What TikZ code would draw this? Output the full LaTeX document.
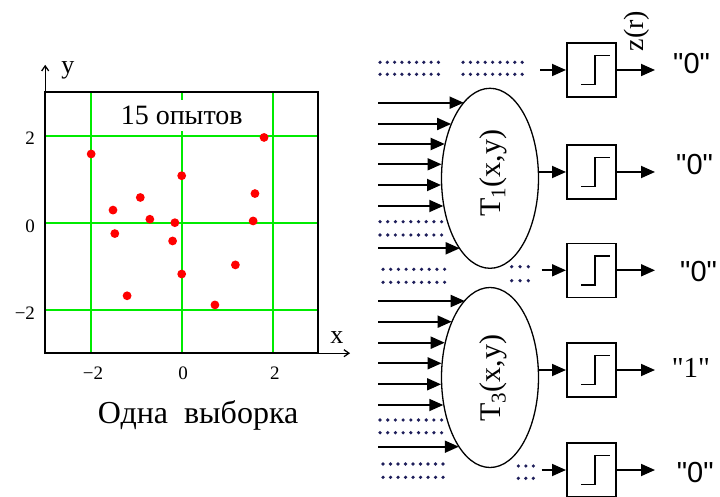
\documentclass[tikz,border=0pt]{standalone}
\usepackage{fontspec}
\setmainfont{Liberation Serif}
\newfontfamily\qsans[Ligatures=TeXOff]{Liberation Sans}
\newfontfamily\qserif[Ligatures=TeXOff]{Liberation Serif}
\usetikzlibrary{arrows.meta,shapes.geometric}
\definecolor{gridgreen}{RGB}{0,235,0}
\definecolor{dotcol}{RGB}{30,30,90}
\definecolor{ptred}{RGB}{255,0,0}
\newcommand\dotrow[4]{\foreach \i in {0,...,#4}{\fill[dotcol] ({#1+\i*#3},#2) circle[radius=1.8pt];}}
\begin{document}
\begin{tikzpicture}[x=1pt,y=-1pt,
 inarr/.style={line width=1.8pt,-{Triangle[length=14pt,width=12pt]}},
 sbox/.style={draw,line width=1.6pt,minimum width=49pt,minimum height=54pt,inner sep=0pt},
 ell/.style={draw,ellipse,line width=1.3pt,minimum width=97pt,minimum height=180pt,inner sep=0pt,fill=white},
 gridl/.style={gridgreen,line width=2pt},
 axarr/.style={line width=1.3pt,-{Straight Barb[length=5pt,width=7pt]}},
 tick/.style={font=\fontsize{19}{21}\selectfont,inner sep=0pt},
 pt/.style={fill=ptred},
 qlab/.style={anchor=west,inner sep=0pt,font=\fontsize{29}{31}\selectfont\qsans},
 steppath/.style={line width=1.6pt},
]
\useasboundingbox (0,0) rectangle (720,497);
% ---------------- plot ----------------
\begin{scope}[shift={(181.7,222.7)},x=45.5pt,y=43.5pt]
 \foreach \v in {-2,0,2}{
  \draw[gridl] (\v,-3) -- (\v,3);
  \draw[gridl] (-3,\v) -- (3,\v);
 }
 \node[fill=white,inner xsep=3pt,inner ysep=6pt,font=\fontsize{28}{30}\selectfont] (title) at (0,2.47) {15 опытов};
 \draw[line width=1.6pt] (-3,-3) rectangle (3,3);
 \coordinate (org) at (-3,-3);
 \coordinate (ytip) at (-3,3.63);
 \coordinate (xtip) at (3.7,-3);
 \draw[axarr] (org) -- (ytip);
 \draw[axarr] (org) -- (xtip);
 \node[font=\fontsize{26}{28}\selectfont] (ylab) at (-2.5,3.51) {y};
 \node[font=\fontsize{26}{28}\selectfont] (xlab) at (3.41,-2.63) {x};
 \node[tick,anchor=east] (ly2) at (-3.22,1.95) {2};
 \node[tick,anchor=east] (ly0) at (-3.22,-0.08) {0};
 \node[tick,anchor=east] (lym) at (-3.22,-2.07) {−2};
 \node[tick] (lxm) at (-1.95,-3.46) {−2};
 \node[tick] (lx0) at (0.03,-3.46) {0};
 \node[tick] (lx2) at (2.05,-3.46) {2};
 \node[font=\fontsize{32}{34}\selectfont] (cap) at (0.36,-4.42) {Одна\ \ выборка};
 \foreach \px/\py in {-1.99/1.58,1.81/1.96,0/1.08,-0.91/0.58,-1.51/0.29,1.61/0.67,-0.70/0.08,-0.15/0,1.57/0.04,-1.47/-0.25,-0.20/-0.42,1.18/-0.97,0/-1.18,-1.20/-1.68,0.73/-1.89}
  \fill[pt] (\px,\py) circle[radius=4.4pt];
\end{scope}
% ---------------- network ----------------
\node[ell] (e1) at (490,178.3) {};
\node[ell] (e2) at (490,377.5) {};
\node[rotate=90,font=\fontsize{30}{32}\selectfont] (l1) at (493,173) {T\textsubscript{1}(x,y)};
\node[rotate=90,font=\fontsize{30}{32}\selectfont] (l2) at (493,378) {T\textsubscript{3}(x,y)};
\node[sbox] (b1) at (591.3,70) {};
\node[sbox] (b2) at (591.3,172) {};
\node[sbox] (b3) at (591.3,270.3) {};
\node[sbox] (b4) at (591.3,370) {};
\node[sbox] (b5) at (591.3,470) {};
\foreach \b in {b1,b2,b3,b4,b5}
 \draw[steppath] (\b.center) ++(-10,14.5) -- ++(13.5,0) -- ++(0,-29) -- ++(15,0);
\node[rotate=90,font=\fontsize{28}{30}\selectfont] (zr) at (637,31) {z(r)};
% inputs to ellipse 1
\foreach \yy [count=\k] in {102.7,124,144,164.3,185,206,248.3}{
 \coordinate (ia\k) at (378,\yy);
 \pgfmathsetmacro\ang{atan2(178.3-\yy,-48.5*sqrt(1-((\yy-178.3)/90.5)^2))}
 \draw[inarr] (ia\k) -- (ia\k -| e1.\ang);
}
% inputs to ellipse 2
\foreach \yy [count=\k] in {301,321.7,342.7,363.3,384.3,405,446.7}{
 \coordinate (ic\k) at (378,\yy);
 \pgfmathsetmacro\ang{atan2(377.5-\yy,-48.5*sqrt(1-((\yy-377.5)/90.5)^2))}
 \draw[inarr] (ic\k) -- (ic\k -| e2.\ang);
}
% box inputs
\coordinate (ib1) at (540,70);
\coordinate (ib3) at (541.7,270.3);
\coordinate (ib5) at (541.7,470);
\draw[inarr] (ib1) -- (b1.west);
\draw[inarr] (b2.west -| e1.east) -- (b2.west);
\draw[inarr] (ib3) -- (b3.west);
\draw[inarr] (b4.west -| e2.east) -- (b4.west);
\draw[inarr] (ib5) -- (b5.west);
% box outputs
\foreach \k in {1,...,5}{
 \coordinate (ob\k) at (655,0 |- b\k.east);
 \draw[inarr] (b\k.east) -- (ob\k);
}
\node[qlab] (o1) at (673,64) {"0"};
\node[qlab] (o2) at (676,165) {"0"};
\node[qlab] (o3) at (680,271.7) {"0"};
\node[qlab,font=\fontsize{29}{31}\selectfont\qserif] (o4) at (671.7,368) {"1"};
\node[qlab] (o5) at (676.7,473) {"0"};
% dotted rows
\dotrow{380}{62.3}{7.3}{8}
\dotrow{380}{74.3}{7.3}{8}
\dotrow{463}{62.3}{7.4}{8}
\dotrow{463}{74.3}{7.4}{8}
\dotrow{380}{221.7}{7.7}{8}
\dotrow{380}{235}{7.7}{8}
\dotrow{383}{269.3}{7.7}{8}
\dotrow{383}{282.3}{7.7}{8}
\dotrow{380}{420}{7.7}{8}
\dotrow{380}{432.7}{7.7}{8}
\dotrow{383}{464}{7.5}{8}
\dotrow{383}{477.3}{7.5}{8}
\dotrow{511.7}{266.7}{8.3}{2}
\dotrow{511.7}{280.7}{8.3}{2}
\dotrow{518.3}{466}{7.5}{2}
\dotrow{518.3}{478.3}{7.5}{2}
\end{tikzpicture}
\end{document}
